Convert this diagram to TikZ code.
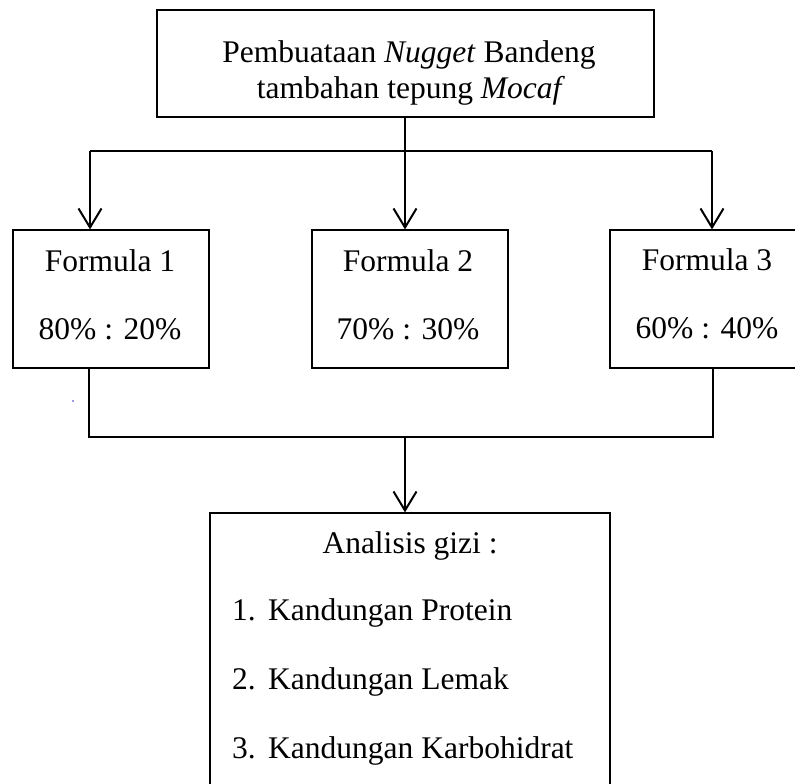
\documentclass[tikz,border=0pt]{standalone}
\usepackage{fontspec}
\setmainfont{Liberation Serif}
\usetikzlibrary{arrows.meta}
\begin{document}
\begin{tikzpicture}[x=1pt,y=-1pt,
  box/.style={draw=black,line width=1.2pt,rectangle,inner sep=0pt},
  txt/.style={inner sep=0pt,anchor=base,font=\fontsize{31.5}{36}\selectfont},
  txtl/.style={inner sep=0pt,anchor=base west,font=\fontsize{31.5}{36}\selectfont},
  conn/.style={line width=2pt},
  arr/.style={line width=2pt,-{Straight Barb[length=19pt,width=23pt,line width=2pt]}}]
\useasboundingbox (0,0) rectangle (795,784);
\clip (0,0) rectangle (795,784);
% boxes
\node[box,minimum width=497pt,minimum height=107pt] (top) at (405.5,63.5) {};
\node[box,minimum width=196pt,minimum height=138pt] (f1) at (111,299) {};
\node[box,minimum width=196pt,minimum height=138pt] (f2) at (410,299) {};
\node[box,minimum width=196pt,minimum height=138pt] (f3) at (708,299) {};
\node[box,minimum width=400pt,minimum height=300pt] (an) at (410,663) {};
% texts
\node[txt] (t1) at (409,63) {Pembuataan \textit{Nugget} Bandeng};
\node[txt] (t2) at (411,98) {tambahan tepung \textit{Mocaf}};
\node[txt] (f1a) at (110,271) {Formula 1};
\node[txt] (f1b) at (110,339) {80\% : 20\%};
\node[txt] (f2a) at (408,271) {Formula 2};
\node[txt] (f2b) at (408,339) {70\% : 30\%};
\node[txt] (f3a) at (707,270) {Formula 3};
\node[txt] (f3b) at (707,338) {60\% : 40\%};
\node[txt] (ag) at (410,553) {Analisis gizi :};
\node[txtl] (n1) at (232,620) {1.};
\node[txtl] (k1) at (268,620) {Kandungan Protein};
\node[txtl] (n2) at (232,689) {2.};
\node[txtl] (k2) at (268,689) {Kandungan Lemak};
\node[txtl] (n3) at (232,758) {3.};
\node[txtl] (k3) at (268,758) {Kandungan Karbohidrat};
% junction coordinates
\coordinate (jl) at (90,151);
\coordinate (jm) at (405,151);
\coordinate (jr) at (712,151);
\coordinate (bl) at (89,437);
\coordinate (bm) at (405,437);
\coordinate (br) at (713,437);
% top connectors
\draw[conn] (top.south -| jm) -- (jm);
\draw[conn] (jl) -- (jr);
\draw[arr] (jl) -- (jl |- f1.north);
\draw[arr] (jm) -- (jm |- f2.north);
\draw[arr] (jr) -- (jr |- f3.north);
% bottom connectors
\draw[conn] (bl |- f1.south) -- (bl) -- (br) -- (br |- f3.south);
\draw[arr] (bm) -- (bm |- an.north);
% stray dot
\fill[blue!60!gray] (73,401) circle (0.9pt);
\end{tikzpicture}
\end{document}
